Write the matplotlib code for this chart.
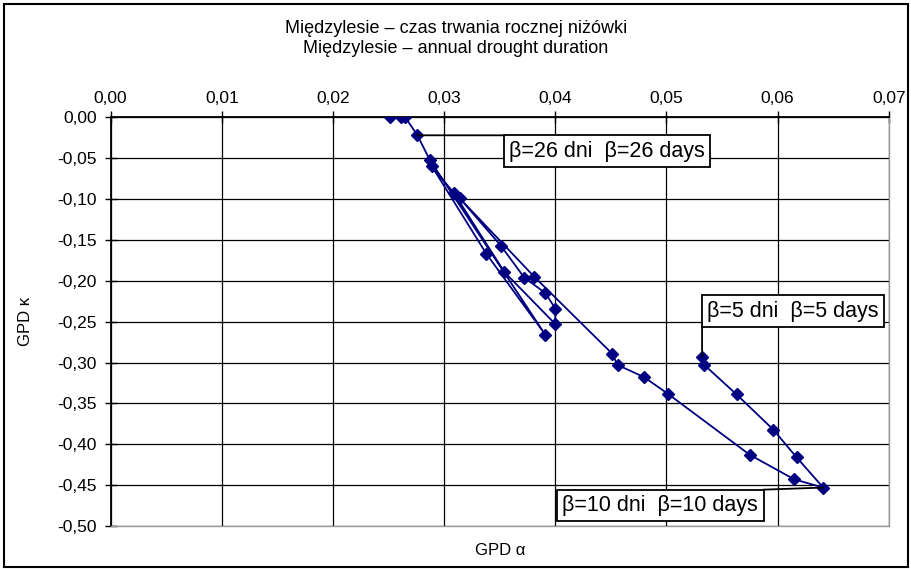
"""
Międzylesie - GPD alpha vs kappa for different thresholds (beta)
"""
import matplotlib
matplotlib.use('Agg')
import matplotlib.pyplot as plt
from matplotlib.patches import Rectangle
from matplotlib.ticker import FuncFormatter

plt.rcParams['font.family'] = ['Liberation Sans', 'DejaVu Sans']

# GPD parameters, in path order
gpd_alpha = [0.0532, 0.0534, 0.0563, 0.0596, 0.0617, 0.0641, 0.0615, 0.0575,
             0.0501, 0.0480, 0.0456, 0.0451, 0.0381, 0.0314, 0.0351, 0.0372,
             0.0391, 0.0400, 0.0400, 0.0354, 0.0309, 0.0289, 0.0338, 0.0391,
             0.0287, 0.0276, 0.0265, 0.0261, 0.0251]
gpd_kappa = [-0.293, -0.303, -0.339, -0.382, -0.416, -0.453, -0.443, -0.413,
             -0.338, -0.318, -0.303, -0.289, -0.195, -0.099, -0.157, -0.196,
             -0.215, -0.234, -0.253, -0.189, -0.093, -0.060, -0.167, -0.266,
             -0.052, -0.022, 0.0, 0.0, 0.0]

x_ticks = [0.00, 0.01, 0.02, 0.03, 0.04, 0.05, 0.06, 0.07]
y_ticks = [0.00, -0.05, -0.10, -0.15, -0.20, -0.25, -0.30, -0.35, -0.40, -0.45, -0.50]

# labelled points: (index in the series, text)
labels = [(25, 'β=26 dni  β=26 days'),
          (0, 'β=5 dni  β=5 days'),
          (5, 'β=10 dni  β=10 days')]

fig = plt.figure(figsize=(9.12, 5.69), dpi=100)
ax = fig.add_axes([0.1213, 0.0756, 0.8533, 0.7182])

navy = '#000080'
ax.plot(gpd_alpha, gpd_kappa, color=navy, linewidth=1.3, marker='D',
        markersize=6, markerfacecolor=navy, markeredgecolor=navy, zorder=3)

ax.set_xlim(0, 0.07)
ax.set_ylim(-0.50, 0)
ax.set_xticks(x_ticks)
ax.set_yticks(y_ticks)
comma = FuncFormatter(lambda v, p: ('%.2f' % v).replace('.', ',').replace('-0,00', '0,00'))
ax.xaxis.set_major_formatter(comma)
ax.yaxis.set_major_formatter(comma)
ax.xaxis.tick_top()
ax.tick_params(axis='both', direction='inout', length=8, width=1,
               labelsize=12.5, colors='black', pad=6)
ax.tick_params(axis='x', pad=4)
ax.grid(True, color='black', linewidth=0.9)
ax.set_axisbelow(True)
for side in ['left', 'top']:
    ax.spines[side].set_linewidth(1.3)
for side in ['right', 'bottom']:
    ax.spines[side].set_color('#999999')
    ax.spines[side].set_linewidth(1)

ax.set_xlabel('GPD α', fontsize=12)
ax.xaxis.set_label_position('bottom')
ax.xaxis.labelpad = 12
ax.set_ylabel('GPD κ', fontsize=12)
ax.yaxis.set_label_coords(-0.1, 0.5)

# annotation boxes; the leader runs from the point to one corner of the box
fs = 15.5
pad = 0.25
pp = pad * fs  # box padding in points
box = dict(boxstyle='square,pad=%s' % pad, facecolor='white', edgecolor='black', linewidth=1.3)
line = dict(arrowstyle='-', color='black', linewidth=1.3, shrinkA=0, shrinkB=0)
# (corner offset in points, sign of x/y for the text anchor, ha, va)
placements = [((62, 0), (1, -1), 'left', 'top'),
              ((0, 21.5), (1, 1), 'left', 'bottom'),
              ((-43, -1.5), (-1, -1), 'right', 'top')]
for (i, txt), ((cx, cy), (sx, sy), ha, va) in zip(labels, placements):
    pt = (gpd_alpha[i], gpd_kappa[i])
    ax.annotate('', xy=pt, xytext=(cx, cy), textcoords='offset points',
                arrowprops=line, zorder=4)
    ax.annotate(txt, xy=pt, xytext=(cx + sx * pp, cy + sy * pp),
                textcoords='offset points', ha=ha, va=va, fontsize=fs,
                bbox=box, zorder=5)

fig.text(0.5, 0.950, 'Międzylesie – czas trwania rocznej niżówki',
         ha='center', va='center', fontsize=13)
fig.text(0.5, 0.915, 'Międzylesie – annual drought duration',
         ha='center', va='center', fontsize=13)

# outer frame
fig.patches.append(Rectangle((0.004, 0.004), 0.992, 0.989, transform=fig.transFigure,
                             fill=False, edgecolor='black', linewidth=1.5))

plt.savefig('out.png', dpi=100, facecolor='white')
